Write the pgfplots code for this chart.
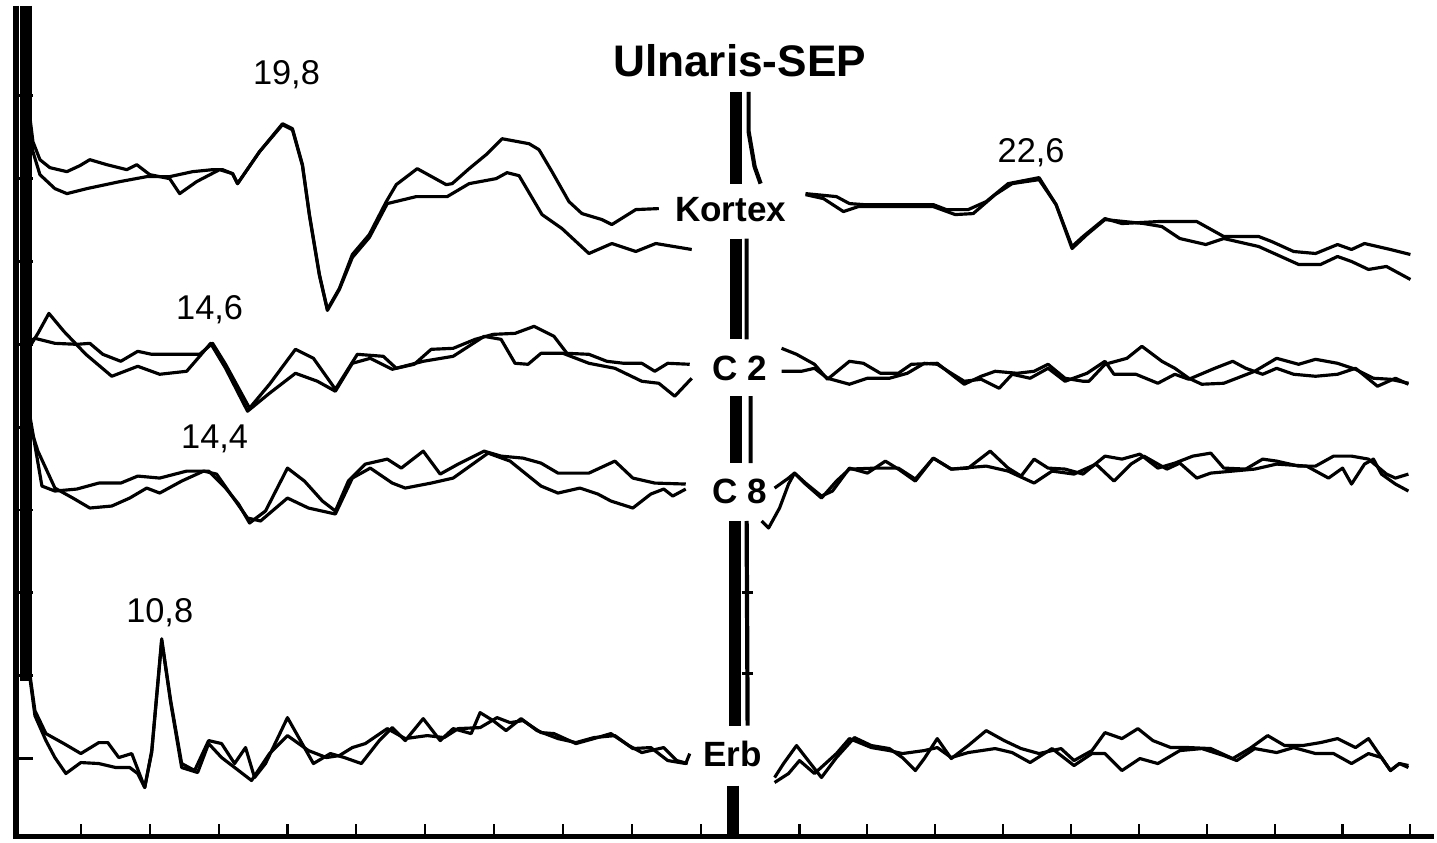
\documentclass[border=0pt]{standalone}
\usepackage{pgfplots}
\pgfplotsset{compat=1.18}
\usepackage{fontspec}
\setmainfont{Liberation Sans}
\tikzset{trace/.style={black, line width=0.9pt, line join=round}}
\begin{document}
\begin{tikzpicture}
\begin{axis}[
  scale only axis, width=14.37cm, height=8.40cm,
  xmin=0, xmax=1437, ymin=0, ymax=840, y dir=reverse,
  axis line style={draw=none}, ticks=none, clip=false,
  unbounded coords=jump,
]
% frame
\addplot[black, line width=1.7pt] coordinates {(16,4)(16,836)};
\addplot[black, line width=1.5pt] coordinates {(13,836)(1437,836)};
% left stimulus artifact
\addplot[black, line width=3.4pt] coordinates {(26,4)(26,680)};
% x ticks
\addplot[black, line width=0.6pt] coordinates {
(81,836)(81,824)(81,nan)(150,836)(150,824)(150,nan)(219,836)(219,824)(219,nan)
(288,836)(288,824)(288,nan)(357,836)(357,824)(357,nan)(426,836)(426,824)(426,nan)
(495,836)(495,824)(495,nan)(564,836)(564,824)(564,nan)(633,836)(633,824)(633,nan)
(702,836)(702,824)(702,nan)(801,836)(801,824)(801,nan)(869,836)(869,824)(869,nan)
(937,836)(937,824)(937,nan)(1005,836)(1005,824)(1005,nan)(1073,836)(1073,824)(1073,nan)
(1141,836)(1141,824)(1141,nan)(1209,836)(1209,824)(1209,nan)(1277,836)(1277,824)(1277,nan)
(1345,836)(1345,824)(1345,nan)(1413,836)(1413,824)};
% y ticks
\addplot[black, line width=0.8pt] coordinates {
(16,94)(33,94)(33,nan)(16,177)(33,177)(33,nan)(16,260)(33,260)(33,nan)
(16,343)(33,343)(33,nan)(16,426)(33,426)(33,nan)(16,509)(33,509)(33,nan)
(16,592)(33,592)(33,nan)(16,675)(33,675)(33,nan)(16,758)(33,758)};
% central artifact bar
\addplot[black, line width=3.4pt] coordinates {
(737,90)(737,182)(737,nan)(737,237)(737,338)(737,nan)(737,395)(737,462)(737,nan)
(736,520)(736,725)(736,nan)(734,785)(734,836)};
\addplot[black, line width=1.2pt] coordinates {
(750,90)(750,130)(756,165)(762,182)(762,nan)(748,237)(748,338)(748,nan)(752,395)(752,462)(752,nan)
(748,520)(749,725)};
\addplot[black, line width=0.8pt] coordinates {(743,592)(754,592)(754,nan)(743,673)(754,673)};

% ---- Kortex left
\addplot[trace] coordinates {(28,100)(33,140)(40,158)(50,166)(67,170)(80,164)(90,158)(107,163)(127,168)(137,163)(150,173)(170,177)(180,192)(197,180)(220,168)(233,172)(238,182)(260,150)(283,122)(293,127)(303,163)(310,213)(320,273)(328,308)(340,287)(353,253)(370,233)(387,200)(397,183)(418,167)(447,183)(453,182)(470,167)(487,153)(503,137)(530,142)(540,148)(553,170)(570,200)(583,212)(603,218)(613,223)(637,208)(660,207)};
\addplot[trace] coordinates {(28,120)(33,150)(40,173)(55,187)(67,192)(87,187)(120,180)(147,175)(170,175)(193,170)(213,168)(223,168)(233,172)(238,182)(260,150)(283,123)(293,128)(303,164)(310,214)(320,274)(328,309)(340,288)(353,256)(370,236)(388,202)(417,195)(448,195)(470,182)(497,177)(508,171)(520,174)(543,213)(563,227)(590,252)(613,242)(637,250)(657,242)(693,248)};
% ---- C2 left
\addplot[trace] coordinates {(30,345)(38,332)(49,312)(64,330)(86,353)(112,375)(138,365)(160,373)(187,370)(200,355)(211,342)(226,367)(248,410)(270,392)(296,372)(318,380)(336,390)(353,362)(371,357)(393,368)(424,360)(454,355)(485,335)(502,338)(516,362)(529,363)(542,352)(564,352)(590,362)(616,367)(643,380)(660,382)(676,395)(693,377)};
\addplot[trace] coordinates {(30,340)(35,337)(55,342)(77,343)(90,342)(103,353)(121,360)(138,350)(152,353)(178,353)(200,353)(213,342)(226,363)(250,407)(270,383)(296,348)(314,357)(336,388)(358,353)(384,355)(397,367)(415,363)(432,348)(454,347)(476,338)(494,333)(516,332)(535,325)(555,335)(568,352)(590,353)(608,360)(625,362)(643,362)(656,370)(669,362)(691,363)};
% ---- C8 left
\addplot[trace] coordinates {(30,415)(36,450)(42,485)(55,490)(77,488)(99,482)(121,482)(138,475)(160,477)(187,470)(209,470)(226,487)(239,503)(250,522)(266,510)(288,467)(305,480)(323,500)(336,510)(349,480)(366,463)(388,458)(402,467)(424,450)(441,473)(459,463)(485,450)(502,455)(524,457)(542,462)(559,472)(590,472)(616,460)(634,477)(656,482)(687,483)};
\addplot[trace] coordinates {(30,425)(38,450)(55,487)(73,497)(90,507)(112,505)(130,497)(147,487)(160,492)(182,480)(204,470)(217,473)(231,493)(248,517)(261,520)(288,497)(309,507)(336,513)(353,477)(371,467)(393,482)(406,487)(432,482)(454,477)(489,452)(511,460)(542,485)(559,492)(581,487)(599,493)(612,500)(634,507)(652,493)(665,488)(674,495)(687,488)};
% ---- Erb left
\addplot[trace] coordinates {(29,667)(35,710)(46,733)(64,743)(81,753)(99,742)(108,742)(119,757)(132,753)(145,787)(152,750)(162,638)(171,700)(182,763)(195,770)(209,740)(222,743)(235,763)(246,747)(255,777)(266,763)(288,717)(301,740)(314,763)(331,753)(345,757)(362,763)(380,740)(393,727)(406,740)(424,718)(441,740)(454,728)(472,733)(481,712)(494,720)(507,730)(522,718)(538,730)(559,738)(577,742)(595,737)(616,735)(634,748)(652,747)(669,760)(687,763)(691,753)};
\addplot[trace] coordinates {(29,670)(35,715)(46,740)(55,757)(66,773)(81,762)(99,763)(116,767)(130,767)(138,773)(145,787)(152,752)(162,640)(171,702)(182,767)(198,772)(209,743)(222,757)(239,770)(252,780)(270,753)(288,735)(309,750)(327,757)(340,755)(353,747)(366,743)(388,728)(406,738)(428,735)(445,737)(459,728)(481,727)(498,717)(511,722)(524,720)(542,732)(555,733)(577,743)(595,738)(612,733)(630,745)(643,752)(665,747)(678,760)(689,763)};

% ---- Kortex right
\addplot[trace] coordinates {(807,192)(838,195)(851,202)(865,203)(935,203)(948,208)(970,208)(988,200)(1010,182)(1041,176)(1058,203)(1074,245)(1085,235)(1107,217)(1124,222)(1160,220)(1199,220)(1226,235)(1261,235)(1274,240)(1296,250)(1318,252)(1340,243)(1354,248)(1367,242)(1393,248)(1413,253)};
\addplot[trace] coordinates {(807,193)(825,197)(845,210)(860,205)(895,205)(935,205)(957,213)(975,212)(997,193)(1014,182)(1041,178)(1058,203)(1074,247)(1089,233)(1107,218)(1146,222)(1164,225)(1182,237)(1208,243)(1226,237)(1261,245)(1301,263)(1323,263)(1340,255)(1354,260)(1371,268)(1389,265)(1413,278)};
% ---- C2 right
\addplot[trace] coordinates {(783,347)(798,353)(816,363)(829,378)(851,360)(865,362)(882,372)(900,372)(913,363)(939,362)(953,373)(966,383)(983,375)(997,370)(1019,372)(1036,370)(1050,363)(1067,377)(1085,380)(1091,380)(1107,363)(1129,357)(1144,345)(1164,360)(1177,367)(1191,377)(1204,383)(1226,382)(1239,377)(1257,370)(1279,357)(1301,363)(1318,358)(1340,362)(1358,368)(1376,377)(1393,378)(1411,382)};
\addplot[trace] coordinates {(783,370)(803,370)(816,367)(829,377)(851,383)(869,377)(891,377)(909,372)(926,362)(939,363)(953,372)(966,380)(983,378)(1001,387)(1014,373)(1032,377)(1050,367)(1067,380)(1089,372)(1107,360)(1116,373)(1138,373)(1160,382)(1177,373)(1191,378)(1217,367)(1235,360)(1248,367)(1265,373)(1279,367)(1296,373)(1318,375)(1340,373)(1358,367)(1380,385)(1398,377)(1411,383)};
% ---- C8 right
\addplot[trace] coordinates {(763,520)(770,527)(781,507)(790,483)(796,472)(807,482)(823,495)(834,490)(851,467)(869,472)(887,460)(900,468)(917,480)(935,457)(953,468)(970,467)(992,450)(1010,467)(1023,475)(1036,458)(1050,467)(1067,468)(1085,473)(1107,455)(1124,458)(1142,453)(1160,467)(1177,462)(1195,455)(1213,452)(1226,467)(1248,468)(1265,458)(1279,460)(1301,465)(1318,465)(1336,455)(1354,455)(1371,458)(1389,473)(1398,477)(1411,473)};
\addplot[trace] coordinates {(776,487)(790,477)(796,472)(807,483)(823,497)(838,480)(851,468)(878,467)(900,467)(917,478)(935,457)(953,468)(988,465)(1010,470)(1036,482)(1054,470)(1076,473)(1098,463)(1116,480)(1133,463)(1146,455)(1169,468)(1182,462)(1199,477)(1213,472)(1235,470)(1257,468)(1279,463)(1309,465)(1331,477)(1345,467)(1354,483)(1367,463)(1376,458)(1384,473)(1398,483)(1411,490)};
% ---- Erb right
\addplot[trace] coordinates {(776,777)(785,763)(798,745)(812,763)(823,777)(838,757)(856,737)(873,745)(891,748)(904,757)(917,770)(926,758)(939,738)(953,758)(970,745)(988,730)(1006,740)(1023,748)(1041,753)(1063,748)(1076,760)(1094,750)(1107,732)(1124,738)(1140,728)(1155,740)(1173,747)(1191,747)(1213,748)(1235,758)(1252,748)(1270,735)(1287,745)(1305,745)(1323,742)(1340,738)(1358,747)(1371,738)(1384,757)(1393,770)(1402,763)(1411,765)};
\addplot[trace] coordinates {(776,782)(790,773)(801,760)(816,773)(838,753)(851,738)(873,747)(891,750)(904,753)(926,750)(939,747)(953,757)(970,752)(997,748)(1014,752)(1032,762)(1054,748)(1076,765)(1094,753)(1107,753)(1124,770)(1142,758)(1160,763)(1182,750)(1204,748)(1226,755)(1239,760)(1257,748)(1279,752)(1296,747)(1318,753)(1336,753)(1354,763)(1371,753)(1384,757)(1393,770)(1402,763)(1411,767)};

% labels
\node at (axis cs:741,59) {\fontsize{12.6}{14}\selectfont\bfseries Ulnaris-SEP};
\node at (axis cs:732,208) {\fontsize{10}{12}\selectfont\bfseries Kortex};
\node at (axis cs:741,367) {\fontsize{10}{12}\selectfont\bfseries C 2};
\node at (axis cs:741,490) {\fontsize{10}{12}\selectfont\bfseries C 8};
\node at (axis cs:734,753) {\fontsize{10}{12}\selectfont\bfseries Erb};
\node at (axis cs:287,73) {\fontsize{9.8}{12}\selectfont 19,8};
\node at (axis cs:1033,151) {\fontsize{9.8}{12}\selectfont 22,6};
\node at (axis cs:210,308) {\fontsize{9.8}{12}\selectfont 14,6};
\node at (axis cs:215,438) {\fontsize{9.8}{12}\selectfont 14,4};
\node at (axis cs:160,612) {\fontsize{9.8}{12}\selectfont 10,8};
\end{axis}
\end{tikzpicture}
\end{document}
